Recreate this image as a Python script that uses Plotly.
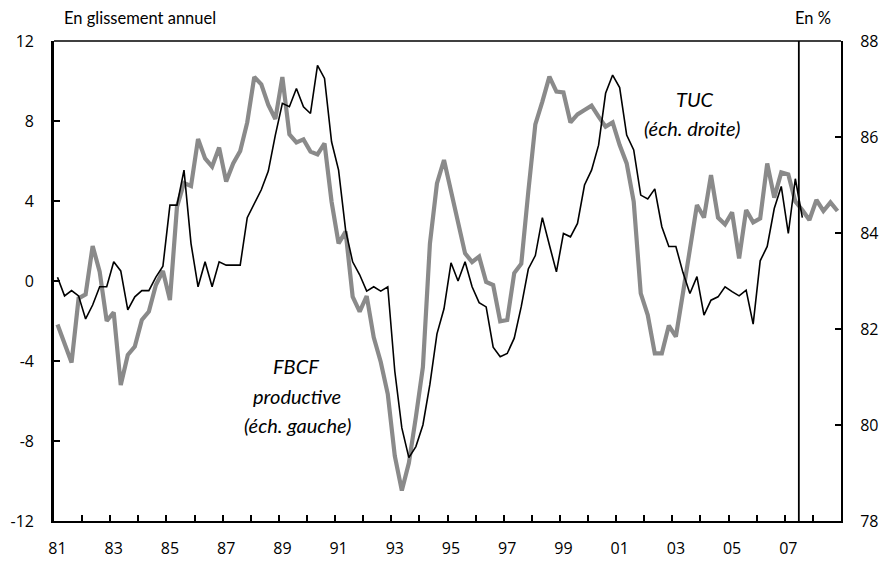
import plotly.graph_objects as go

# Quarterly categories 1981T1 .. 2008T4
years = list(range(1981, 2009))
quarters = [f"{y}T{q}" for y in years for q in (1, 2, 3, 4)]

# FBCF productive, glissement annuel (%), left scale
fbcf = [-2.17, -3.1, -4.08, -0.87, -0.67, 1.75, 0.47, -2.0, -1.57, -5.2,
        -3.7, -3.28, -1.95, -1.53, -0.2, 0.5, -0.95, 3.7, 4.9, 4.75,
        7.1, 6.13, 5.72, 6.67, 4.97, 5.88, 6.5, 7.93, 10.2, 9.83,
        8.8, 8.1, 10.2, 7.33, 6.93, 7.08, 6.47, 6.33, 6.88, 3.97,
        1.88, 2.47, -0.78, -1.53, -0.75, -2.82, -4.05, -5.65, -8.75, -10.48,
        -9.1, -6.8, -4.3, 1.88, 4.88, 6.05, 4.47, 2.97, 1.38, 0.95,
        1.22, -0.05, -0.2, -2.02, -1.95, 0.4, 0.86, 4.47, 7.83, 8.97,
        10.22, 9.47, 9.43, 7.93, 8.33, 8.55, 8.77, 8.22, 7.72, 7.93,
        6.8, 5.88, 3.97, -0.62, -1.7, -3.62, -3.62, -2.23, -2.78, -0.62,
        1.63, 3.8, 3.17, 5.3, 3.17, 2.83, 3.43, 1.13, 3.55, 2.93,
        3.13, 5.88, 4.17, 5.43, 5.33, 3.97, 3.55, 3.05, 4.05, 3.5,
        3.93, 3.5]

# TUC, taux d'utilisation des capacites (%), right scale (ends 2007T3)
tuc = [83.08, 82.69, 82.80, 82.69, 82.21, 82.50, 82.88, 82.88, 83.40, 83.21,
       82.40, 82.67, 82.80, 82.80, 83.08, 83.31, 84.58, 84.58, 85.31, 83.78,
       82.88, 83.40, 82.88, 83.40, 83.33, 83.33, 83.33, 84.32, 84.62, 84.90,
       85.29, 86.04, 86.70, 86.63, 87.01, 86.63, 86.49, 87.49, 87.22, 85.90,
       85.31, 84.06, 83.40, 83.13, 82.79, 82.88, 82.79, 82.88, 81.12, 79.94,
       79.32, 79.55, 80.0, 80.85, 81.9, 82.42, 83.38, 83.0, 83.40, 82.88,
       82.55, 82.46, 81.62, 81.42, 81.49, 81.81, 82.47, 83.25, 83.53, 84.32,
       83.75, 83.19, 83.99, 83.92, 84.20, 85.0, 85.31, 85.83, 86.91, 87.29,
       87.03, 86.04, 85.73, 84.79, 84.71, 84.92, 84.13, 83.72, 83.72, 83.18,
       82.74, 83.09, 82.29, 82.60, 82.67, 82.88, 82.78, 82.69, 82.81, 82.10,
       83.42, 83.72, 84.51, 84.97, 83.99, 85.13, 84.32]

tick_labels = ["81", "83", "85", "87", "89", "91", "93", "95", "97", "99",
               "01", "03", "05", "07"]
left_ticks = [-12, -8, -4, 0, 4, 8, 12]
left_labels = ["-12", "-8", "-4", "0", "4", "8", "12"]
right_ticks = [78, 80, 82, 84, 86, 88]
forecast_start = "2007T3"   # vertical separator before this quarter

x = list(range(len(quarters)))
xt = x[::8][:len(tick_labels)]
minor_vals = [v - 0.5 for v in x[4::4]]
vline_x = quarters.index(forecast_start) - 0.5

TICKFONT = dict(family="Open Sans, Noto Sans, sans-serif", size=16, color="black")
TXTFONT = "Lato, sans-serif"

fig = go.Figure()
fig.add_trace(go.Scatter(x=x, y=fbcf, mode="lines", name="FBCF productive",
                         text=quarters, line=dict(color="#8a8a8a", width=4.2),
                         yaxis="y"))
fig.add_trace(go.Scatter(x=x[:len(tuc)], y=tuc, mode="lines", name="TUC",
                         text=quarters, line=dict(color="black", width=1.6),
                         yaxis="y2"))

fig.update_layout(
    width=881, height=562,
    margin=dict(l=54, r=40, t=41, b=41),
    paper_bgcolor="white", plot_bgcolor="white",
    showlegend=False,
    xaxis=dict(range=[-0.5, len(quarters) - 0.5], tickmode="array",
               tickvals=xt, ticktext=tick_labels, ticks="",
               showgrid=False, zeroline=False, automargin=False,
               showline=True, linecolor="black", linewidth=2,
               tickfont=TICKFONT, ticklabelstandoff=12,
               minor=dict(tickmode="array", tickvals=minor_vals, ticks="inside",
                          ticklen=6, tickwidth=1.5, tickcolor="black", showgrid=False)),
    yaxis=dict(range=[-12, 12], tickmode="array", tickvals=left_ticks,
               ticktext=left_labels,
               ticks="inside", ticklen=6, tickwidth=1.5, tickcolor="black",
               showgrid=False, zeroline=False, automargin=False,
               showline=True, linecolor="black", linewidth=2.6,
               tickfont=TICKFONT, ticklabelstandoff=14),
    yaxis2=dict(range=[78, 88], tickmode="array", tickvals=right_ticks,
                overlaying="y", side="right", automargin=False,
                ticks="inside", ticklen=6, tickwidth=1.5, tickcolor="black",
                showgrid=False, zeroline=False,
                showline=True, linecolor="black", linewidth=2,
                tickfont=TICKFONT, ticklabelstandoff=14),
)

# top frame line and forecast separator
fig.add_shape(type="line", xref="paper", yref="paper", x0=0, x1=1, y0=1, y1=1,
              line=dict(color="black", width=1.6))
fig.add_shape(type="line", xref="x", yref="paper", x0=vline_x, x1=vline_x, y0=0, y1=1,
              line=dict(color="black", width=1.8))

def px(xp):
    return (xp - 54) / 787.0

def py(yp):
    return (521 - yp) / 480.0

fig.add_annotation(text="En glissement annuel", xref="paper", yref="paper",
                   x=px(62), y=py(18), xanchor="left", yanchor="middle",
                   showarrow=False, font=dict(family=TXTFONT, size=16.5, color="black"))
fig.add_annotation(text="En %", xref="paper", yref="paper",
                   x=px(833), y=py(18), xanchor="right", yanchor="middle",
                   showarrow=False, font=dict(family=TXTFONT, size=16.5, color="black"))

for txt, cx, cy in [("TUC", 695, 99), ("(éch. droite)", 692, 128),
                    ("FBCF", 296, 366), ("productive", 297, 396),
                    ("(éch. gauche)", 297, 425)]:
    fig.add_annotation(text=f"<i>{txt}</i>", xref="paper", yref="paper",
                       x=px(cx), y=py(cy), xanchor="center", yanchor="middle",
                       showarrow=False,
                       font=dict(family=TXTFONT, size=20, color="black"))

fig.write_html("out.html",
               config={"displayModeBar": False},
               post_script="document.body.style.margin='0';"
                           "document.body.style.overflow='hidden';")
